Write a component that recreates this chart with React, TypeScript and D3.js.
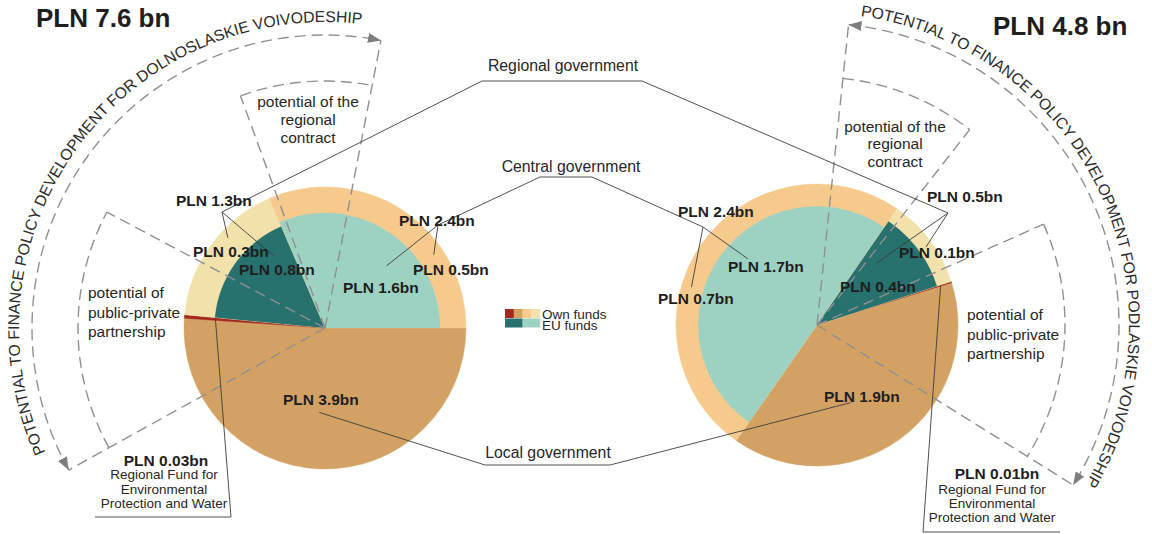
import { useEffect, useRef } from 'react';
import * as d3 from 'd3';

const WIDTH = 1152;
const HEIGHT = 534;
const FONT = '"Liberation Sans", Arial, sans-serif';

// slices are listed clockwise, in the order each pie draws them
const dolnoCategories = ['local', 'fund', 'regional', 'central'];
const dolnoTotals = [3.9, 0.03, 1.3, 2.4];
const dolnoOwnFunds = [3.9, 0.03, 0.3, 0.5];
const dolnoEuFunds = [0, 0, 0.8, 1.6];

const podlaCategories = ['fund', 'local', 'central', 'regional'];
const podlaTotals = [0.01, 1.9, 2.4, 0.5];
const podlaOwnFunds = [0.01, 1.9, 0.7, 0.1];
const podlaEuFunds = [0, 0, 1.7, 0.4];

const totalTitles = ['PLN 7.6 bn', 'PLN 4.8 bn'];
const governmentLevels = ['Regional government', 'Central government', 'Local government'];
const legendOwn = ['fund', 'local', 'central', 'regional'];
const legendEu = ['regional', 'central'];

const ownColor: Record<string, string> = {
  local: '#d4a164',
  fund: '#a3291f',
  regional: '#f3e1ab',
  central: '#f6ca8c',
};
const euColor: Record<string, string> = {
  regional: '#27716f',
  central: '#9dd2c2',
};

const R = 141;
const DASH = '#8f8f8f';
const INK = '#1e1e1e';
const LEADER = '#3c3c3c';

const rad = (deg: number) => (deg * Math.PI) / 180;
const polar = (cx: number, cy: number, deg: number, r: number): [number, number] => [
  cx + r * Math.sin(rad(deg)),
  cy - r * Math.cos(rad(deg)),
];
const fmt = (v: number) => `PLN ${v}bn`;

const App = () => {
  const ref = useRef<SVGSVGElement | null>(null);

  useEffect(() => {
    if (!ref.current) return;
    const svg = d3.select(ref.current);
    svg.selectAll('*').remove();
    svg.attr('width', WIDTH).attr('height', HEIGHT);
    svg.append('rect').attr('width', WIDTH).attr('height', HEIGHT).attr('fill', '#fff');

    const defs = svg.append('defs');
    defs
      .append('marker')
      .attr('id', 'arrow')
      .attr('viewBox', '0 0 13 10')
      .attr('refX', 13)
      .attr('refY', 5)
      .attr('markerWidth', 13)
      .attr('markerHeight', 10)
      .attr('markerUnits', 'userSpaceOnUse')
      .attr('orient', 'auto-start-reverse')
      .append('path')
      .attr('d', 'M0,0 L13,5 L0,10 Z')
      .attr('fill', '#7d7d7d');

    const arc = d3.arc<any>();

    const drawPie = (
      cx: number,
      cy: number,
      cats: string[],
      totals: number[],
      eu: number[],
      startDeg: number
    ) => {
      const pie = d3
        .pie<number>()
        .sort(null)
        .value((d) => d)
        .startAngle(rad(startDeg))
        .endAngle(rad(startDeg + 360));
      const slices = pie(totals);
      const euRadius = d3.scaleSqrt().domain([0, 1]).range([0, R]);
      const g = svg.append('g').attr('transform', `translate(${cx},${cy})`);
      slices.forEach((s, i) => {
        g.append('path')
          .attr('d', arc({ innerRadius: 0, outerRadius: R, startAngle: s.startAngle, endAngle: s.endAngle }))
          .attr('fill', ownColor[cats[i]])
          .attr('stroke', ownColor[cats[i]])
          .attr('stroke-width', 0.5);
        if (eu[i] > 0) {
          g.append('path')
            .attr(
              'd',
              arc({
                innerRadius: 0,
                outerRadius: euRadius(eu[i] / totals[i]),
                startAngle: s.startAngle,
                endAngle: s.endAngle,
              })
            )
            .attr('fill', euColor[cats[i]]);
        }
      });
      // point inside a slice: t along its angle, rf of the radius
      return (cat: string, t: number, rf: number) => {
        const s = slices[cats.indexOf(cat)];
        const a = s.startAngle + t * (s.endAngle - s.startAngle);
        return polar(cx, cy, (a * 180) / Math.PI, rf * R);
      };
    };

    const L = { cx: 325, cy: 328 };
    const P = { cx: 817, cy: 325 };
    const anchorL = drawPie(L.cx, L.cy, dolnoCategories, dolnoTotals, dolnoEuFunds, 90);
    const anchorR = drawPie(P.cx, P.cy, podlaCategories, podlaTotals, podlaEuFunds, 72);

    // dashed sectors: potential of the regional contract / public-private partnership
    const dashed = svg
      .append('g')
      .attr('fill', 'none')
      .attr('stroke', DASH)
      .attr('stroke-width', 1.4)
      .attr('stroke-dasharray', '11 6');
    const arcPath = (cx: number, cy: number, r: number, a0: number, a1: number) => {
      const p = d3.path();
      const s = polar(cx, cy, a0, r);
      p.moveTo(s[0], s[1]);
      p.arc(cx, cy, r, rad(a0 - 90), rad(a1 - 90), false);
      return p.toString();
    };
    const drawGuides = (
      c: { cx: number; cy: number },
      outer: [number, number, number],
      inner: [number, number, number][],
      radials: [number, number][]
    ) => {
      radials.forEach(([a, r]) => {
        const e = polar(c.cx, c.cy, a, r);
        dashed.append('line').attr('x1', c.cx).attr('y1', c.cy).attr('x2', e[0]).attr('y2', e[1]);
      });
      inner.forEach(([r, a0, a1]) => dashed.append('path').attr('d', arcPath(c.cx, c.cy, r, a0, a1)));
      dashed
        .append('path')
        .attr('d', arcPath(c.cx, c.cy, outer[0], outer[1], outer[2]))
        .attr('marker-start', 'url(#arrow)')
        .attr('marker-end', 'url(#arrow)');
    };
    drawGuides(L, [293, 241, 371], [[247, 340, 371], [247, 241, 298]], [[241, 293], [371, 293], [340, 247], [298, 247]]);
    drawGuides(P, [302, 6, 122], [[248, 6, 38], [248, 66, 122]], [[6, 302], [122, 302], [38, 248], [66, 248]]);

    // curved captions
    const curved = [
      { id: 'capL', c: L, r: 306, a0: 246, a1: 380, text: 'POTENTIAL TO FINANCE POLICY DEVELOPMENT FOR DOLNOSLASKIE VOIVODESHIP' },
      { id: 'capR', c: P, r: 312, a0: 8, a1: 130, text: 'POTENTIAL TO FINANCE POLICY DEVELOPMENT FOR PODLASKIE VOIVODESHIP' },
    ];
    curved.forEach((d) => {
      defs.append('path').attr('id', d.id).attr('d', arcPath(d.c.cx, d.c.cy, d.r, d.a0, d.a1));
      svg
        .append('text')
        .attr('font-family', FONT)
        .attr('font-size', 15.7)
        .attr('fill', '#2a2a2a')
        .append('textPath')
        .attr('href', `#${d.id}`)
        .text(d.text);
    });

    // leader lines
    const leaders = svg.append('g').attr('fill', 'none').attr('stroke', LEADER).attr('stroke-width', 0.9);
    const poly = (pts: [number, number][]) => leaders.append('path').attr('d', d3.line()(pts));
    const J1: [number, number] = [222, 212];
    const J2: [number, number] = [948, 213];
    const J3: [number, number] = [438, 225];
    const J4: [number, number] = [703, 227];
    poly([J1, [482, 81], [642, 81], J2]);
    poly([anchorL('regional', 0.61, 0.94), J1, anchorL('regional', 0.8, 0.63)]);
    poly([anchorR('regional', 0.53, 0.95), J2, anchorR('regional', 0.25, 0.61)]);
    poly([J3, [540, 177], [592, 177], J4]);
    poly([anchorL('central', 0.7, 0.93), J3, anchorL('central', 0.6, 0.62)]);
    poly([anchorR('central', 0.55, 0.68), J4, anchorR('central', 0.4, 0.93)]);
    poly([anchorL('local', 0.51, 0.6), [485, 465], [610, 465], anchorR('local', 0.59, 0.6)]);
    poly([anchorL('fund', 0.5, 0.78), [231, 517], [95, 517]]);
    poly([anchorR('fund', 0.5, 0.92), [923, 532], [1060, 532]]);

    const text = (x: number, y: number, s: string, size: number, bold = false, anchor = 'start') =>
      svg
        .append('text')
        .attr('x', x)
        .attr('y', y)
        .attr('font-family', FONT)
        .attr('font-size', size)
        .attr('font-weight', bold ? 'bold' : 'normal')
        .attr('text-anchor', anchor)
        .attr('fill', bold ? INK : '#262626')
        .text(s);

    // titles
    text(36, 27, totalTitles[0], 26, true);
    text(993, 35, totalTitles[1], 26, true);

    // government level captions
    text(563, 71, governmentLevels[0], 15.8, false, 'middle');
    text(571, 172, governmentLevels[1], 15.8, false, 'middle');
    text(548, 458, governmentLevels[2], 15.8, false, 'middle');

    // value labels, left pie
    const iL = (c: string) => dolnoCategories.indexOf(c);
    text(176, 206, fmt(dolnoTotals[iL('regional')]), 15.5, true);
    text(193, 257, fmt(dolnoOwnFunds[iL('regional')]), 15.5, true);
    text(239, 275, fmt(dolnoEuFunds[iL('regional')]), 15.5, true);
    text(399, 226, fmt(dolnoTotals[iL('central')]), 15.5, true);
    text(413, 275, fmt(dolnoOwnFunds[iL('central')]), 15.5, true);
    text(343, 293, fmt(dolnoEuFunds[iL('central')]), 15.5, true);
    text(283, 405, fmt(dolnoTotals[iL('local')]), 15.5, true);
    text(166, 466, fmt(dolnoTotals[iL('fund')]), 15.5, true, 'middle');

    // value labels, right pie
    const iR = (c: string) => podlaCategories.indexOf(c);
    text(678, 217, fmt(podlaTotals[iR('central')]), 15.5, true);
    text(728, 272, fmt(podlaEuFunds[iR('central')]), 15.5, true);
    text(658, 304, fmt(podlaOwnFunds[iR('central')]), 15.5, true);
    text(927, 202, fmt(podlaTotals[iR('regional')]), 15.5, true);
    text(899, 258, fmt(podlaOwnFunds[iR('regional')]), 15.5, true);
    text(840, 292, fmt(podlaEuFunds[iR('regional')]), 15.5, true);
    text(824, 402, fmt(podlaTotals[iR('local')]), 15.5, true);
    text(997, 479, fmt(podlaTotals[iR('fund')]), 15.5, true, 'middle');

    const fundLines = ['Regional Fund for', 'Environmental', 'Protection and Water'];
    fundLines.forEach((s, i) => {
      text(164, 479 + i * 14.6, s, 13.5, false, 'middle');
      text(992, 494 + i * 14.2, s, 13.5, false, 'middle');
    });

    const contractLines = ['potential of the', 'regional', 'contract'];
    contractLines.forEach((s, i) => {
      text(308, 107 + i * 17.8, s, 15.5, false, 'middle');
      text(895, 132 + i * 17.4, s, 15.5, false, 'middle');
    });
    const pppLines = ['potential of', 'public-private', 'partnership'];
    pppLines.forEach((s, i) => {
      text(88, 298 + i * 19.5, s, 15.5);
      text(967, 320 + i * 19.5, s, 15.5);
    });

    // legend
    const lg = svg.append('g').attr('transform', 'translate(505,309)');
    const xOwn = d3.scaleBand().domain(legendOwn).range([0, 35]);
    legendOwn.forEach((c) =>
      lg
        .append('rect')
        .attr('x', xOwn(c)!)
        .attr('y', 0)
        .attr('width', xOwn.bandwidth() + 0.3)
        .attr('height', 9)
        .attr('fill', ownColor[c])
    );
    const xEu = d3.scaleBand().domain(legendEu).range([0, 35]);
    legendEu.forEach((c) =>
      lg
        .append('rect')
        .attr('x', xEu(c)!)
        .attr('y', 9.5)
        .attr('width', xEu.bandwidth() + 0.3)
        .attr('height', 9)
        .attr('fill', euColor[c])
    );
    lg.append('text').attr('x', 37).attr('y', 9.5).attr('font-family', FONT).attr('font-size', 13.5).attr('fill', '#262626').text('Own funds');
    lg.append('text').attr('x', 37).attr('y', 21).attr('font-family', FONT).attr('font-size', 13.5).attr('fill', '#262626').text('EU funds');
  }, []);

  return <svg ref={ref} style={{ position: 'absolute', left: 0, top: 0, display: 'block' }} />;
};

export default App;
